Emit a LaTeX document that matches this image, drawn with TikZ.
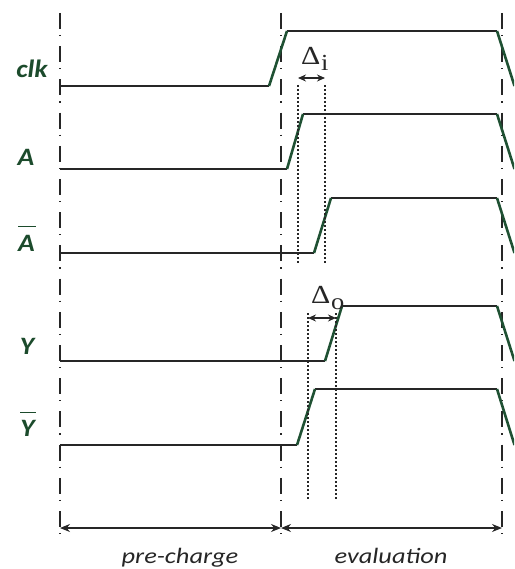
\documentclass[tikz,border=0pt]{standalone}
\usepackage{graphicx}
\usepackage{fontspec}
\setmainfont{Carlito}
\newfontfamily\timesfont{Liberation Serif}
\usetikzlibrary{arrows.meta}
\definecolor{sig}{HTML}{262626}
\definecolor{edgegreen}{HTML}{1F5133}
\definecolor{labgreen}{HTML}{1C4B2C}
\newcommand\labfont{\fontsize{25}{25}\selectfont\bfseries\itshape}
\newcommand\lab[1]{\scalebox{1.1}[1]{\labfont #1}}
\newcommand\phasetext[1]{\scalebox{1.2}[1]{\fontsize{22}{22}\selectfont\itshape #1}}
\newcommand\deltatext[1]{\scalebox{1.15}[1]{\timesfont\fontsize{26}{26}\selectfont Δ\kern0.5pt\raisebox{-6pt}{\fontsize{23}{23}\selectfont #1}}}
\newcommand\sigwave[5]{% name, ylow, yhigh, xrise0, xrise1
  \coordinate (#1-0) at (60,#2);
  \coordinate (#1-1) at (#4,#2);
  \coordinate (#1-2) at (#5,#3);
  \coordinate (#1-3) at (497,#3);
  \coordinate (#1-4) at (514.5,#2);
  \draw[sigline] (#1-0) -- (#1-1);
  \draw[sigline] (#1-2) -- (#1-3);
  \draw[edgeline] (#1-1) -- (#1-2);
  \draw[edgeline] (#1-3) -- (#1-4);
}
\tikzset{
  sigline/.style={line width=2.6pt, draw=sig},
  edgeline/.style={line width=2.6pt, draw=edgegreen},
  phase/.style={line width=1.4pt, draw=sig, dash pattern=on 16pt off 6pt on 1.2pt off 10pt},
  marker/.style={line width=1.4pt, draw=sig, dash pattern=on 2pt off 2pt},
  dimsmall/.style={line width=1.2pt, draw=sig, {Stealth[length=8pt,width=7pt]}-{Stealth[length=8pt,width=7pt]}},
  dimbig/.style={line width=1.2pt, draw=sig, {Stealth[length=10pt,width=8pt]}-{Stealth[length=10pt,width=8pt]}},
  lbl/.style={text=labgreen, anchor=base, inner sep=0pt},
  phaselbl/.style={text=sig, anchor=base, inner sep=0pt},
  deltalbl/.style={text=sig, anchor=base west, inner sep=0pt}
}
\begin{document}
\begin{tikzpicture}[x=1pt,y=-1pt]
\useasboundingbox (0,0) rectangle (514,569);
\begin{scope}
\clip (0,0) rectangle (514,569);
% phase boundaries
\coordinate (p0t) at (60,13);  \coordinate (p0b) at (60,537);
\coordinate (p1t) at (281,13); \coordinate (p1b) at (281,537);
\coordinate (p2t) at (502,13); \coordinate (p2b) at (502,537);
\draw[phase] (p0t) -- (p0b);
\draw[phase] (p1t) -- (p1b);
\draw[phase] (p2t) -- (p2b);
% signals
\sigwave{clk}{86}{31}{269}{287}
\sigwave{a}{169}{114}{287}{303}
\sigwave{ab}{253}{198}{314}{331}
\sigwave{y}{361}{306}{325}{342}
\sigwave{yb}{445}{389}{297}{315}
\end{scope}
% delay markers
\coordinate (di1t) at (298,85);  \coordinate (di1b) at (298,263);
\coordinate (di2t) at (325,85);  \coordinate (di2b) at (325,263);
\draw[marker] (di1t) -- (di1b);
\draw[marker] (di2t) -- (di2b);
\coordinate (dia) at (298,78); \coordinate (dib) at (325,78);
\draw[dimsmall] (dia) -- (dib);
\node[deltalbl] (deltai) at (301,65) {\deltatext{i}};
\coordinate (do1t) at (308,313); \coordinate (do1b) at (308,500);
\coordinate (do2t) at (336,313); \coordinate (do2b) at (336,500);
\draw[marker] (do1t) -- (do1b);
\draw[marker] (do2t) -- (do2b);
\coordinate (doa) at (308,318); \coordinate (dob) at (336,318);
\draw[dimsmall] (doa) -- (dob);
\node[deltalbl] (deltao) at (311,303) {\deltatext{o}};
% signal labels
\node[lbl] (lclk) at (32,78) {\lab{clk}};
\node[lbl] (la) at (26,166) {\lab{A}};
\node[lbl] (lab) at (27,251) {$\overline{\hbox{\rule{0pt}{23pt}\lab{A}\kern1pt}}$};
\node[lbl] (ly) at (27,354) {\lab{Y}};
\node[lbl] (lyb) at (28,436) {$\overline{\hbox{\rule{0pt}{22pt}\lab{Y}\kern1pt}}$};
% phases
\coordinate (b0) at (60,528); \coordinate (b1) at (281,528); \coordinate (b2) at (502,528);
\draw[dimbig] (b0) -- (b1);
\draw[dimbig] (b1) -- (b2);
\node[phaselbl] (pre) at (180,563) {\phasetext{pre-charge}};
\node[phaselbl] (eval) at (391,563) {\phasetext{evaluation}};
\end{tikzpicture}
\end{document}
